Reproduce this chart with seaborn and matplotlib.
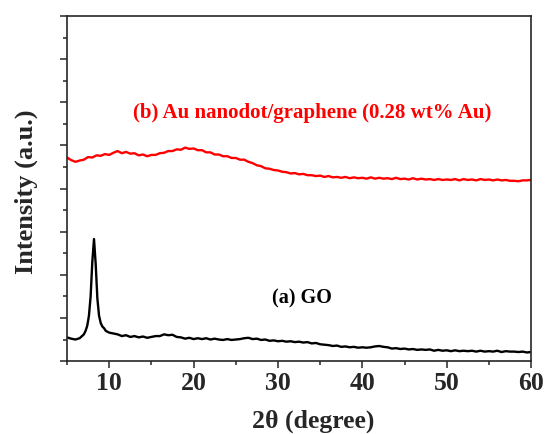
import numpy as np
import pandas as pd
import matplotlib.pyplot as plt
import seaborn as sns
from matplotlib.ticker import MultipleLocator

# 2theta grids
x_au = np.round(np.arange(5.0, 60.01, 0.5), 2)
x_go = np.round(np.concatenate([np.arange(5.0, 7.01, 0.5),
                                np.arange(7.2, 9.61, 0.2),
                                np.arange(10.0, 60.01, 0.5)]), 2)

# (b) Au nanodot/graphene
y_au = [4.72, 4.66, 4.62, 4.65, 4.67, 4.73, 4.72, 4.77, 4.76, 4.80,
        4.78, 4.83, 4.87, 4.82, 4.85, 4.81, 4.82, 4.77, 4.79, 4.75,
        4.78, 4.78, 4.82, 4.83, 4.87, 4.87, 4.91, 4.90, 4.95, 4.92,
        4.93, 4.89, 4.89, 4.84, 4.84, 4.79, 4.79, 4.75, 4.75, 4.71,
        4.71, 4.67, 4.67, 4.62, 4.59, 4.54, 4.52, 4.47, 4.46, 4.43,
        4.42, 4.39, 4.38, 4.35, 4.36, 4.33, 4.34, 4.31, 4.31, 4.29,
        4.30, 4.27, 4.29, 4.26, 4.27, 4.25, 4.27, 4.24, 4.26, 4.24,
        4.25, 4.23, 4.26, 4.23, 4.25, 4.23, 4.24, 4.22, 4.25, 4.22,
        4.23, 4.21, 4.24, 4.21, 4.23, 4.21, 4.22, 4.20, 4.22, 4.20,
        4.21, 4.20, 4.22, 4.19, 4.22, 4.20, 4.21, 4.19, 4.22, 4.20,
        4.21, 4.19, 4.21, 4.19, 4.20, 4.18, 4.18, 4.17, 4.19, 4.19,
        4.20]

# (a) GO
y_go = [0.55, 0.52, 0.50, 0.53, 0.62,
        0.70, 0.82, 1.05, 1.50, 2.30, 2.83, 2.25, 1.45, 1.05, 0.88, 0.80, 0.76, 0.70,
        0.66, 0.64, 0.62, 0.58, 0.60, 0.56, 0.58, 0.55, 0.57, 0.54,
        0.56, 0.58, 0.58, 0.62, 0.60, 0.61, 0.56, 0.55, 0.52, 0.54,
        0.51, 0.53, 0.51, 0.53, 0.50, 0.52, 0.50, 0.49, 0.51, 0.49,
        0.50, 0.51, 0.53, 0.54, 0.51, 0.52, 0.49, 0.50, 0.47, 0.48,
        0.46, 0.47, 0.45, 0.46, 0.44, 0.45, 0.43, 0.44, 0.41, 0.42,
        0.39, 0.38, 0.37, 0.35, 0.36, 0.33, 0.34, 0.32, 0.33, 0.31,
        0.32, 0.31, 0.32, 0.34, 0.35, 0.33, 0.32, 0.29, 0.30, 0.28,
        0.29, 0.27, 0.28, 0.26, 0.27, 0.26, 0.27, 0.24, 0.26, 0.24,
        0.25, 0.23, 0.25, 0.23, 0.24, 0.23, 0.24, 0.22, 0.24, 0.22,
        0.23, 0.22, 0.24, 0.21, 0.23, 0.22, 0.22, 0.21, 0.22, 0.20,
        0.21]

df = pd.concat([
    pd.DataFrame({"theta": x_go, "I": y_go, "s": "GO"}),
    pd.DataFrame({"theta": x_au, "I": y_au, "s": "Au"}),
])

sns.set_theme(style="ticks")
plt.rcParams['font.family'] = ['Liberation Serif', 'DejaVu Serif']

fig = plt.figure(figsize=(5.46, 4.34), dpi=100)
ax = fig.add_axes([0.1227, 0.168, 0.85, 0.795])

sns.lineplot(data=df, x="theta", y="I", hue="s", palette={"GO": "black", "Au": "#ff0000"},
             linewidth=1.7, legend=False, ax=ax, sort=False, estimator=None)

ax.set_xlim(5, 60)
ax.set_ylim(0, 8)
ax.xaxis.set_major_locator(MultipleLocator(10))
ax.xaxis.set_minor_locator(MultipleLocator(5))
ax.yaxis.set_major_locator(MultipleLocator(1))
ax.yaxis.set_minor_locator(MultipleLocator(0.5))
ax.set_yticklabels([])
ax.tick_params(which='major', direction='out', length=5, width=1.1, labelsize=18.5, pad=3)
ax.tick_params(which='minor', direction='out', length=3, width=1.1)
ax.tick_params(axis='x', which='both', top=False)
ax.tick_params(axis='y', which='both', right=False)
for lab in ax.get_xticklabels():
    lab.set_fontweight('bold')
for sp in ax.spines.values():
    sp.set_linewidth(1.2)
    sp.set_visible(True)

ax.set_xlabel("2θ (degree)", fontsize=18.5, fontweight='bold', labelpad=10)
ax.set_ylabel("Intensity (a.u.)", fontsize=19, fontweight='bold', labelpad=13)
ax.xaxis.label.set_x(0.53)
ax.yaxis.label.set_y(0.491)

ax.text(34.0, 5.75, "(b) Au nanodot/graphene (0.28 wt% Au)", color="#ff0000",
        fontsize=15, fontweight='bold', ha='center', va='center')
ax.text(32.8, 1.46, "(a) GO", color="black", fontsize=14.5, fontweight='bold',
        ha='center', va='center')

fig.savefig("out.png", dpi=100)
